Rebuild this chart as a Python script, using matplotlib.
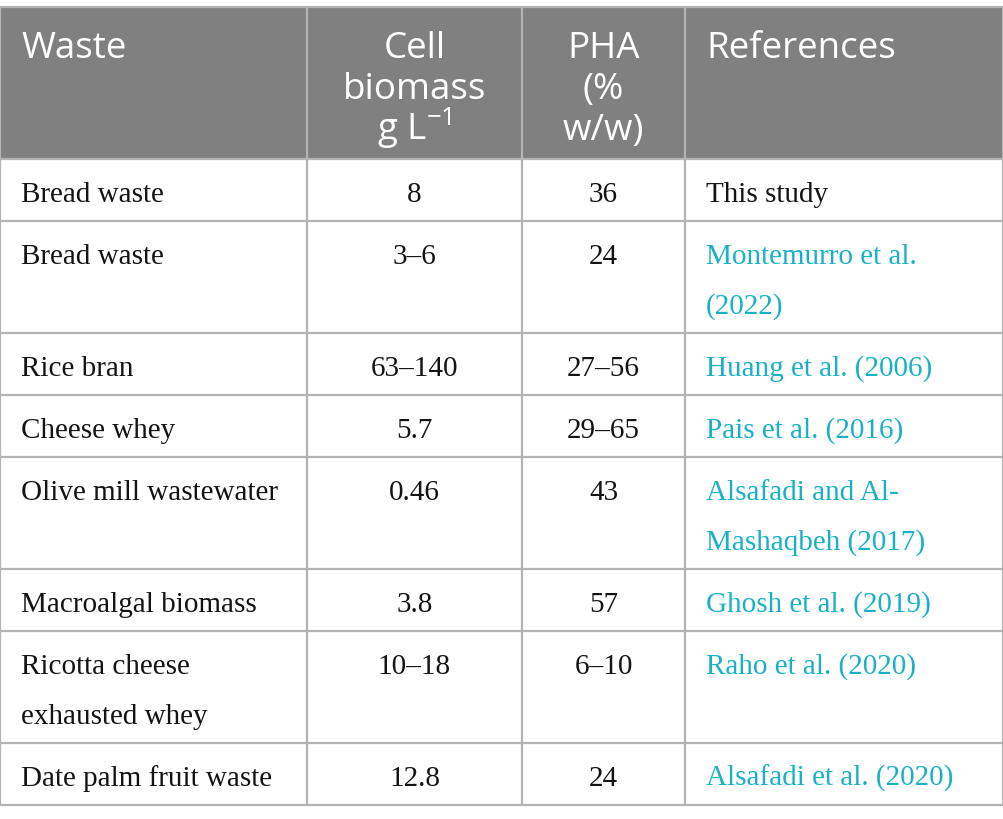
import matplotlib
matplotlib.use("Agg")
import matplotlib.pyplot as plt

# table content
headers = ["Waste", "Cell\nbiomass\ng L$^{-1}$", "PHA\n(%\nw/w)", "References"]
wastes = ["Bread waste", "Bread waste", "Rice bran", "Cheese whey",
          "Olive mill wastewater", "Macroalgal biomass",
          "Ricotta cheese\nexhausted whey", "Date palm fruit waste"]
biomass = ["8", "3\u20136", "63\u2013140", "5.7", "0.46", "3.8", "10\u201318", "12.8"]
pha = ["36", "24", "27\u201356", "29\u201365", "43", "57", "6\u201310", "24"]
refs = ["This study", "Montemurro et al.\n(2022)", "Huang et al. (2006)",
        "Pais et al. (2016)", "Alsafadi and Al-\nMashaqbeh (2017)",
        "Ghosh et al. (2019)", "Raho et al. (2020)", "Alsafadi et al. (2020)"]
is_link = [False, True, True, True, True, True, True, True]

W, H = 1004, 820
col_edges = [0, 307, 522, 685, 1003]
head_top, head_bot = 8, 160
line_h = 50
row_base = 62

head_bg = "#808080"
grid_c = "#b4b4b4"
link_c = "#1ab1c6"
text_c = "#141414"

plt.rcParams["mathtext.default"] = "regular"

fig = plt.figure(figsize=(W / 100, H / 100), dpi=100)
ax = fig.add_axes([0, 0, 1, 1])
ax.set_xlim(0, W)
ax.set_ylim(H, 0)
ax.axis("off")

# header band
ax.add_patch(plt.Rectangle((0, head_top), col_edges[-1], head_bot - head_top,
                           facecolor=head_bg, edgecolor="none"))

head_font = dict(family=["Open Sans", "DejaVu Sans"], fontsize=26.5, color="white")
body_font = dict(family="Liberation Serif", fontsize=21)

def cell_x(c, align):
    if align == "left":
        return col_edges[c] + 21
    return (col_edges[c] + col_edges[c + 1]) / 2

aligns = ["left", "center", "center", "left"]
for c, h in enumerate(headers):
    for k, part in enumerate(h.split("\n")):
        ax.text(cell_x(c, aligns[c]), head_top + 50 + k * 41, part,
                ha=aligns[c], va="baseline", **head_font)

# body rows
tops = [head_bot]
for i in range(len(wastes)):
    n = max(s.count("\n") for s in (wastes[i], biomass[i], pha[i], refs[i])) + 1
    tops.append(tops[-1] + row_base + line_h * (n - 1))

for i in range(len(wastes)):
    cells = [wastes[i], biomass[i], pha[i], refs[i]]
    for c, txt in enumerate(cells):
        col = link_c if (c == 3 and is_link[i]) else text_c
        for k, part in enumerate(txt.split("\n")):
            ax.text(cell_x(c, aligns[c]), tops[i] + 42 + k * line_h, part,
                    ha=aligns[c], va="baseline", color=col, **body_font)

# grid lines
bottom = tops[-1]
for y in tops[1:]:
    ax.plot([0, col_edges[-1]], [y, y], color=grid_c, lw=1.6, solid_capstyle="butt")
ax.plot([0, col_edges[-1]], [head_top, head_top], color=grid_c, lw=1.6)
ax.plot([0, col_edges[-1]], [head_bot, head_bot], color=grid_c, lw=1.6)
for x in col_edges:
    ax.plot([x, x], [head_top, bottom], color=grid_c, lw=1.6, solid_capstyle="butt")

fig.savefig("out.png", dpi=100)
